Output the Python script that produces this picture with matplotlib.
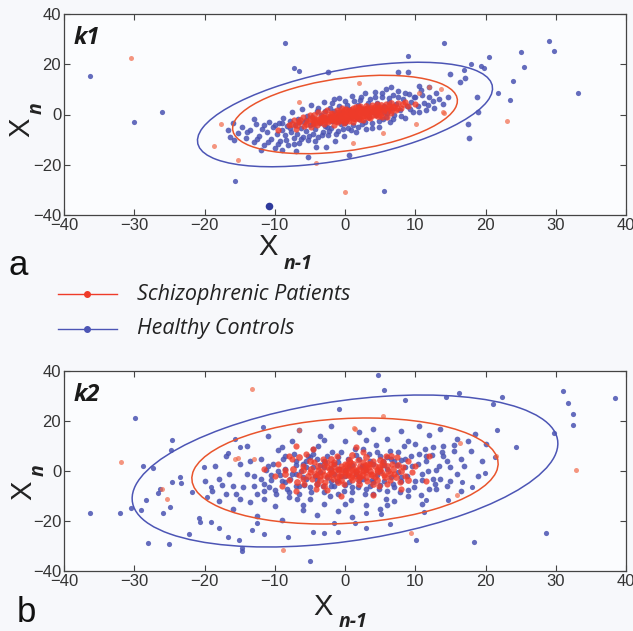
import numpy as np
import matplotlib
matplotlib.use("Agg")
import matplotlib.pyplot as plt
from matplotlib.patches import Ellipse
from matplotlib.lines import Line2D

plt.rcParams["font.family"] = ["Liberation Sans", "DejaVu Sans"]
plt.rcParams["axes.unicode_minus"] = True

W, H = 633, 631
BG = "#f7f8fb"
BLUE = "#4a53b2"
RED = "#ef3b29"
BLUE_LINE = "#4c55b5"
RED_LINE = "#e9542c"

# ---- panel k1 (a) ----
k1_blue_core = np.array([
    (-15.2, -7.5), (-14.6, -4.8), (-14.1, -9.2), (-13.5, -6.1), (-13.0, -11.0), (-12.7, -3.9), (-12.2, -8.4),
    (-11.8, -5.6), (-11.5, -12.3), (-11.1, -7.0), (-10.8, -2.8), (-10.5, -9.6), (-10.2, -5.1), (-10.0, -13.5),
    (-9.7, -7.8), (-9.4, -3.2), (-9.2, -10.4), (-9.0, -6.0), (-8.8, -1.5), (-8.6, -8.2), (-8.3, -4.7),
    (-8.1, -12.0), (-7.9, -2.6), (-7.7, -6.9), (-7.5, 0.8), (-7.3, -9.5), (-7.1, -4.0), (-6.9, -7.6),
    (-6.7, -1.9), (-6.5, -11.2), (-6.3, -5.4), (-6.1, 2.1), (-6.0, -8.8), (-5.8, -3.1), (-5.6, -6.5),
    (-5.4, -0.6), (-5.2, -10.0), (-5.0, -4.3), (-4.8, 3.6), (-4.6, -7.7), (-4.4, -2.0), (-4.2, -5.6),
    (-4.0, 1.2), (-3.8, -9.1), (-3.6, -3.5), (-3.4, -0.2), (-3.2, -6.8), (-3.0, 4.8), (-2.8, -4.6),
    (-2.6, -1.4), (-2.4, -8.0), (-2.2, 2.4), (-2.0, -5.2), (-1.8, -2.6), (-1.6, 6.2), (-1.4, -10.5),
    (-1.2, -0.4), (-1.0, -6.4), (-0.8, 3.2), (-0.6, -3.6), (-0.4, 0.9), (-0.2, -8.4), (0.0, 5.4),
    (0.2, -2.0), (0.4, -5.2), (0.6, 2.2), (0.8, -0.8), (1.0, 7.2), (1.2, -4.0), (1.4, 1.4), (1.6, -7.0),
    (1.8, 3.8), (2.0, -1.8), (2.2, 5.6), (2.4, -3.6), (2.6, 0.4), (2.8, 8.4), (3.0, -5.6), (3.2, 2.6),
    (3.4, -1.0), (3.6, 6.2), (3.8, -3.2), (4.0, 1.0), (4.2, 9.0), (4.4, -0.2), (4.6, 4.4), (4.8, -4.8),
    (5.0, 2.0), (5.2, 7.0), (5.4, -1.6), (5.6, 3.4), (5.8, 10.2), (6.0, 0.6), (6.2, 5.0), (6.4, -2.8),
    (6.6, 2.6), (6.8, 7.8), (7.0, 0.0), (7.3, 4.2), (7.6, 9.4), (7.9, 1.6), (8.2, 6.0), (8.5, -1.2),
    (8.8, 3.4), (9.1, 8.0), (9.4, 5.0), (9.7, 1.0), (10.0, 6.8), (10.4, 3.2), (10.8, 9.8), (11.2, 4.6),
    (11.6, 1.8), (12.0, 7.0), (12.5, 5.2), (13.0, 8.6), (-2.0, -1.0), (-1.0, -2.5), (0.5, 0.5),
    (1.5, -1.0), (2.5, 2.0), (-3.0, -2.0), (3.5, 1.5), (-1.5, 1.5), (0.0, -3.5), (4.5, 2.8),
    (-4.5, -3.8), (5.5, 0.8), (-0.5, -1.0), (2.0, 3.0), (-2.5, -5.0), (-16.6, -6.0), (-16.4, -9.0),
    (-2.7, -12.8), (-4.1, -12.8), (-5.3, -16.8), (0.5, -16.0), (-2.4, 16.8), (7.6, 16.8), (8.9, 16.8),
    (17.5, -3.6), (17.7, -9.2), (19.0, 0.8), (18.8, 6.8), (16.4, 12.8), (17.1, 14.4), (14.9, 16.0),
])
k1_blue_band = np.array([
    (-14.0, -7.0), (-12.5, -9.8), (-11.6, -4.2), (-10.9, -10.8), (-9.9, -4.0), (-9.5, -11.8), (-8.9, -3.5),
    (-8.4, -10.0), (-7.8, -5.3), (-7.2, -11.6), (-6.6, -3.0), (-6.2, -9.8), (-5.5, -2.0), (-5.1, -8.6),
    (-4.7, -0.8), (-4.3, -10.6), (-3.9, 2.6), (-3.3, -8.0), (-2.9, 1.4), (-2.3, -6.4), (-1.9, 4.4),
    (-1.3, -7.6), (-0.9, 6.6), (-0.3, -5.8), (0.3, 3.8), (0.9, -6.0), (1.3, 5.4), (1.9, -4.8), (2.3, 7.0),
    (2.9, -3.0), (3.3, 4.6), (3.9, -5.4), (4.3, 6.8), (4.9, -2.6), (5.3, 8.6), (5.9, -0.8), (6.3, 6.6),
    (6.9, -1.6), (7.5, 6.8), (8.0, -0.4), (8.6, 8.6), (9.2, 2.0), (9.8, 7.0), (10.6, 1.0), (11.0, 7.6),
    (11.8, 3.6), (12.6, 2.4), (13.4, 6.2), (14.0, 4.0), (14.6, 7.0), (-13.0, -1.8), (-15.8, -10.0),
    (-12.0, -14.0), (-9.0, -14.2), (-7.0, -14.6), (10.5, 11.5), (12.0, 10.8), (6.5, 11.0), (-16.0, -3.5),
])
k1_blue_outliers = np.array([
    (-36.3, 15.2), (-30.1, -2.8), (-26.0, 0.8), (-8.6, 28.4), (-7.3, 18.4), (-6.6, 17.2), (-15.6, -26.4),
    (14.1, 28.4), (9.0, 23.2), (29.0, 29.2), (29.7, 25.2), (25.0, 24.8), (25.5, 18.8), (20.5, 22.8),
    (19.4, 19.2), (19.8, 18.4), (17.9, 20.0), (17.0, 17.6), (23.9, 13.2), (21.8, 8.4), (23.5, 5.6),
    (33.1, 8.4), (5.6, -30.4),
])
k1_blue_big = np.array([(-10.8, -36.4)])
k1_red_core = np.array([
    (-8.0, -4.0), (-7.2, -2.0), (-7.0, -5.6), (-6.5, -3.0), (-6.0, -1.0), (-5.8, -4.4), (-5.4, -2.4),
    (-5.0, 0.0), (-4.8, -5.0), (-4.5, -3.2), (-4.2, -1.6), (-4.0, -4.0), (-3.8, 0.8), (-3.6, -2.6),
    (-3.3, -0.8), (-3.0, -3.8), (-2.8, -1.8), (-2.6, 1.6), (-2.4, -3.0), (-2.2, -0.4), (-2.0, -2.2),
    (-1.8, 0.6), (-1.6, -4.2), (-1.4, -1.2), (-1.2, 1.8), (-1.0, -2.8), (-0.8, -0.2), (-0.6, -1.8),
    (-0.4, 2.4), (-0.2, -3.4), (0.0, 0.2), (0.2, -1.2), (0.4, 1.2), (0.6, -2.4), (0.8, 0.6), (1.0, -0.6),
    (1.2, 2.6), (1.4, -1.8), (1.6, 0.0), (1.8, 1.6), (2.0, -1.0), (2.2, 3.2), (2.4, 0.4), (2.6, -2.0),
    (2.8, 1.2), (3.0, -0.4), (3.2, 2.4), (3.4, 0.6), (3.6, -1.4), (3.8, 3.6), (4.0, 1.4), (4.2, -0.2),
    (4.4, 2.2), (4.6, 4.2), (4.8, 0.8), (5.0, 2.8), (5.3, -0.8), (5.6, 1.8), (5.9, 4.0), (6.2, 2.4),
    (6.5, 0.6), (6.8, 3.4), (7.2, 1.8), (7.6, 4.4), (8.0, 2.6), (8.5, 5.0), (9.0, 3.2), (-1.0, 0.8),
    (0.0, -1.0), (1.0, 1.0), (2.0, 0.6), (3.0, 1.0), (-2.0, -1.2), (0.5, -0.2), (1.5, 0.8), (2.5, -0.6),
    (-0.5, 0.0), (3.5, 2.0), (4.5, 0.4), (-3.5, -1.5), (1.2, -2.8), (2.2, 1.8), (0.2, 2.0), (-1.5, -2.0),
    (6.0, -0.8), (-9.5, -6.0), (10.0, 4.0),
])
k1_red_dense = np.array([
    (-5.5, -3.6), (-5.0, -1.6), (-4.6, -2.2), (-4.2, -3.4), (-3.9, -2.0), (-3.5, -3.0), (-3.2, -1.0),
    (-2.9, -2.6), (-2.5, -0.8), (-2.3, -2.0), (-2.0, 0.2), (-1.8, -1.6), (-1.5, -0.6), (-1.3, -2.6),
    (-1.1, 0.0), (-0.9, -1.4), (-0.7, 0.8), (-0.5, -2.2), (-0.3, -0.6), (-0.1, 1.0), (0.1, -0.4),
    (0.3, -1.8), (0.5, 0.8), (0.7, -1.0), (0.9, 1.6), (1.1, 0.0), (1.3, -1.2), (1.5, 1.4), (1.7, -0.4),
    (1.9, 0.6), (2.1, -1.6), (2.3, 2.2), (2.5, 1.0), (2.7, -0.2), (2.9, 2.0), (3.1, 0.2), (3.3, -0.8),
    (3.5, 1.0), (3.7, 2.6), (3.9, 0.0), (4.1, 1.8), (4.3, 3.0), (4.5, 1.2), (4.7, -0.4), (4.9, 2.0),
    (5.1, 3.6), (5.4, 1.0), (5.7, 2.6), (6.0, 1.4), (6.3, 3.4), (6.6, 1.8), (7.0, 3.0), (7.4, 2.6),
    (-6.4, -2.0), (-6.8, -4.0), (-7.6, -3.6), (-3.0, 0.4), (-4.4, 0.0), (0.0, -2.4), (2.0, 2.6),
    (5.0, 0.0), (6.5, 4.6), (8.2, 4.0), (-0.2, 1.8), (1.6, 2.8), (3.0, 3.2),
])
k1_red_outliers = np.array([
    (-30.4, 22.4), (-17.7, -3.6), (-18.7, -12.4), (-15.3, -18.0), (-4.1, -19.2), (23.0, -2.4),
    (0.0, -30.8), (12.0, 10.8), (13.6, 10.0), (14.1, 0.4), (10.1, -3.6), (1.1, -11.2), (5.4, -7.2),
    (10.6, 8.4), (14.0, 0.8), (2.0, 12.4), (-6.6, 4.8),
])
# ellipse: half extent in x, half extent in y, y at the x extreme
k1_blue_ell = (21.0, 20.8, 10.4)
k1_red_ell = (16.0, 15.6, 5.5)

# ---- panel k2 (b) ----
k2_blue_core = np.array([
    (-20.0, -4.0), (-19.0, -8.0), (-18.5, 2.0), (-18.0, -12.0), (-17.5, -5.5), (-17.0, 6.0), (-16.5, -1.0),
    (-16.0, -15.0), (-15.5, -9.0), (-15.0, 3.0), (-14.5, -6.5), (-14.0, 10.0), (-13.5, -12.5), (-13.0, -2.0),
    (-12.5, -18.0), (-12.0, 5.0), (-11.5, -8.0), (-11.0, 14.0), (-10.5, -3.5), (-10.0, -14.0), (-9.5, 8.5),
    (-9.0, -19.5), (-8.5, 1.0), (-8.0, -10.5), (-7.5, 12.0), (-7.0, -6.0), (-6.5, 16.5), (-6.0, -15.5),
    (-5.5, 4.0), (-5.0, -11.0), (-4.5, 9.0), (-4.0, -17.5), (-3.5, 14.0), (-3.0, -13.0), (-2.0, 18.0),
    (-1.0, -16.0), (0.0, 12.0), (1.0, -18.5), (2.0, 15.5), (3.0, -13.5), (4.0, 17.0), (5.0, -15.0),
    (6.0, 13.0), (7.0, -12.0), (8.0, 16.0), (9.0, -10.0), (10.0, 11.0), (11.0, -13.0), (12.0, 14.5),
    (13.0, -7.0), (14.0, 10.0), (15.0, -4.0), (16.0, 13.0), (17.0, 2.0), (18.0, 8.0), (19.0, -2.0),
    (20.0, 11.0), (14.5, 4.0), (16.5, -8.0), (18.5, 15.0), (13.5, 17.0), (11.5, 6.0), (12.5, -3.0),
    (10.5, 18.0), (15.5, 8.0), (17.5, 12.0), (19.5, 4.0),
    (-12.0, -3.0), (-11.2, 0.5), (-10.8, -6.2), (-10.2, 3.0), (-9.8, -9.0), (-9.2, -1.5), (-8.8, 4.8),
    (-8.2, -7.2), (-7.8, -3.0), (-7.2, 7.0), (-6.8, -11.0), (-6.2, 0.0), (-5.8, -5.5), (-5.2, 6.2),
    (-4.8, -8.5), (-4.2, -2.0), (-3.8, 10.0), (-3.2, -6.0), (-2.8, 3.5), (-2.2, -10.0), (-1.8, 7.5),
    (-1.2, -4.0), (-0.8, 1.0), (-0.2, -8.0), (0.4, 5.0), (0.8, -11.5), (1.4, 9.0), (1.8, -6.5), (2.4, 2.0),
    (2.8, -9.0), (3.4, 7.0), (3.8, -3.5), (4.4, 10.5), (4.8, -7.0), (5.4, 4.0), (5.8, -11.0), (6.4, 8.0),
    (6.8, -5.0), (7.4, 2.5), (7.8, -8.5), (8.4, 10.0), (8.8, -2.0), (9.4, 6.0), (9.8, -6.5), (10.4, 3.0),
    (10.8, -9.5), (11.4, 9.0), (11.8, 0.0), (12.4, 6.5), (12.8, -5.0), (13.4, 2.0), (13.8, 7.5),
    (-11.5, -11.0), (-9.0, 9.5), (-6.0, -13.5), (-3.0, 12.5), (0.0, -13.0), (3.0, 12.5), (6.0, -13.5),
    (9.0, 12.0), (-7.0, 2.5), (5.0, 0.0), (8.0, 4.5), (-4.0, 5.0), (2.0, -2.5), (-1.5, -1.0), (11.0, -3.5),
    (-8.5, -4.5),
    (-7.0, -1.0), (-6.0, 3.0), (-5.5, -3.0), (-4.5, 1.5), (-4.0, -5.0), (-3.5, -0.5), (-3.0, 4.0),
    (-2.5, -2.5), (-2.0, 1.0), (-1.5, -6.0), (-1.0, 3.5), (-0.5, -2.0), (0.0, 0.5), (0.5, -4.5), (1.0, 2.5),
    (1.5, -1.0), (2.0, 5.0), (2.5, -3.0), (3.0, 0.5), (3.5, -6.0), (4.0, 3.0), (4.5, -1.5), (5.0, 6.0),
    (5.5, -4.0), (6.0, 1.0), (6.5, -2.5), (7.0, 4.0), (7.5, -0.5), (8.0, -4.0), (8.5, 1.5), (-6.5, -6.0),
    (-5.0, 5.5), (-2.0, -4.0), (1.0, -6.5), (4.0, -4.5), (6.0, 5.5), (-3.0, 1.5), (0.0, -2.0), (2.5, 1.5),
    (-1.0, 5.5),
])
k2_blue_band = np.array([
    (-11.5, -5.0), (-11.0, 2.0), (-10.5, -1.5), (-10.0, -7.5), (-9.5, 0.0), (-9.0, -4.0), (-8.5, 6.0),
    (-8.0, -8.5), (-7.5, -1.0), (-7.0, 4.0), (-6.5, -9.0), (-6.0, -2.5), (-5.5, 1.5), (-5.0, -6.5),
    (-4.5, 7.0), (-4.0, -3.5), (-3.5, 2.5), (-3.0, -8.5), (-2.5, 6.0), (-2.0, -6.0), (-1.5, 3.0),
    (-1.0, -9.0), (-0.5, 7.5), (0.0, -5.5), (0.5, 2.0), (1.0, -8.5), (1.5, 6.5), (2.0, -4.0), (2.5, 9.0),
    (3.0, -7.0), (3.5, 4.0), (4.0, -9.0), (4.5, 7.5), (5.0, -5.5), (5.5, 2.5), (6.0, -8.0), (6.5, 5.0),
    (7.0, -6.5), (7.5, 7.5), (8.0, -2.5), (8.5, 5.0), (9.0, -7.5), (9.5, 2.0), (10.0, -4.0), (10.5, 7.0),
    (11.0, -1.0), (11.5, 4.0), (12.0, -7.0), (12.5, 9.5), (13.0, 0.5), (13.5, -3.0), (14.0, 6.0),
    (14.5, -6.0), (15.0, 1.5), (15.5, 10.5), (16.0, -1.0), (16.5, 5.0), (-13.0, -6.0), (-14.0, -1.0),
    (-13.5, 4.0), (-12.5, -9.0), (-15.0, -11.0), (-17.0, -9.0), (-16.0, -6.0), (-18.0, -3.0),
])
k2_blue_outliers = np.array([
    (-29.9, 21.2), (-36.3, -16.8), (-32.0, -16.8), (-30.4, -14.8), (-29.1, -15.6), (-28.7, 2.0),
    (-27.3, 1.2), (-28.0, -28.8), (-25.1, -29.2), (-24.6, 12.4), (-24.8, 8.4), (-25.9, -16.8),
    (-24.9, -14.4), (-26.3, -7.2), (-26.6, -8.8), (-24.6, -4.4), (-23.5, -2.4), (-23.4, -4.8),
    (-21.8, -8.4), (-22.2, -25.2), (-20.8, -18.8), (-20.6, -20.4), (-28.3, -11.6), (-19.1, -20.4),
    (-18.0, -22.8), (-16.7, -26.4), (-15.1, -27.6), (-14.6, -30.8), (-14.6, -32.0), (-11.6, -25.2),
    (-8.1, -26.4), (-5.0, -36.0), (-13.2, -23.6), (-12.5, -20.8), (-20.1, 1.6), (-19.1, -6.4),
    (-19.6, -10.4), (-15.6, 12.8), (-14.9, 9.6), (-11.7, 17.6), (-16.7, 7.2),
    (4.7, 38.4), (5.5, 32.4), (16.2, 31.2), (8.6, 28.4), (14.4, 29.6), (22.4, 29.6), (31.1, 32.0),
    (31.8, 27.2), (32.5, 22.8), (32.4, 18.4), (38.4, 29.2), (21.1, 26.8), (-0.9, 24.8), (21.6, 16.4),
    (29.7, 15.2), (24.4, 9.6), (21.3, 5.6), (19.9, -0.8), (18.1, -6.4), (16.6, -4.4), (28.6, -24.8),
    (18.3, -28.4), (10.1, -27.6), (6.4, -21.2), (3.0, -22.8), (-1.0, -24.4), (-3.0, -24.8),
    (-4.6, -24.4), (1.4, -20.8), (-1.6, -20.8), (5.1, -17.2), (3.0, -16.8), (11.3, -16.4),
    (11.6, -11.6), (14.7, -11.6),
])
k2_red_core = np.array([
    (-10.0, -2.0), (-9.5, 3.0), (-9.0, -6.0), (-8.5, 0.5), (-8.0, -3.5), (-7.5, 5.0), (-7.0, -8.0),
    (-6.5, -1.5), (-6.0, 2.0), (-5.8, -5.0), (-5.5, 7.0), (-5.0, -0.5), (-4.7, -3.0), (-4.4, 3.5),
    (-4.1, -7.0), (-3.8, 0.5), (-3.5, -2.0), (-3.2, 5.0), (-2.9, -4.5), (-2.6, 1.5), (-2.3, -1.0),
    (-2.0, 3.0), (-1.7, -3.0), (-1.4, 0.0), (-1.1, 6.0), (-0.8, -2.0), (-0.5, 2.0), (-0.2, -5.0),
    (0.1, 0.5), (0.4, -1.5), (0.7, 3.5), (1.0, -3.5), (1.3, 1.0), (1.6, -0.5), (1.9, 4.5), (2.2, -2.5),
    (2.5, 0.0), (2.8, 2.5), (3.1, -4.0), (3.4, 1.5), (3.7, -1.0), (4.0, 4.0), (4.3, -2.5), (4.6, 0.5),
    (4.9, -6.0), (5.2, 2.5), (5.5, -1.5), (5.8, 6.0), (6.1, 0.0), (6.4, -3.5), (6.7, 3.0), (7.0, -1.0),
    (7.4, 5.5), (7.8, -4.5), (8.2, 1.5), (8.6, -2.0), (9.0, 4.0), (9.5, -0.5), (10.0, 2.0), (-1.0, 1.0),
    (0.0, -0.5), (1.0, 0.5), (2.0, 1.0), (3.0, -0.5), (-2.0, -0.5), (0.5, 1.5), (1.5, -2.0), (2.5, 3.5),
    (-0.5, -1.0), (3.5, 3.0), (4.5, -0.5), (-3.0, 2.5), (-4.0, -1.5), (5.0, 1.0), (-1.5, 3.5), (0.0, 3.0),
    (1.0, -1.5), (2.0, -1.0), (3.0, 1.5), (-6.0, -3.0), (6.0, -5.0), (-8.0, 6.0), (8.0, -7.0),
    (-2.5, -7.5), (2.5, 7.5), (-4.5, 9.0), (4.0, -9.5), (-7.0, 10.0), (11.5, -4.0), (12.0, 6.0),
    (-11.5, 1.0), (-0.5, -10.0), (1.5, 9.5),
])
k2_red_dense = np.array([
    (-5.2, -2.0), (-4.8, 1.0), (-4.3, -1.0), (-3.9, 2.0), (-3.6, -3.5), (-3.3, 0.0), (-3.0, -1.5),
    (-2.7, 3.5), (-2.4, -2.5), (-2.1, 1.0), (-1.8, -1.0), (-1.5, 2.0), (-1.2, -2.5), (-0.9, 0.5),
    (-0.6, -3.5), (-0.3, 1.0), (0.0, -1.5), (0.3, 2.5), (0.6, -0.5), (0.9, -2.5), (1.2, 3.0), (1.5, 0.0),
    (1.8, -3.0), (2.1, 2.0), (2.4, -1.5), (2.7, 0.5), (3.0, -2.5), (3.3, 3.0), (3.6, 0.0), (3.9, -1.5),
    (4.2, 2.0), (4.5, -3.5), (4.8, 1.5), (5.1, -0.5), (5.4, 3.5), (5.7, -2.5), (6.0, 2.0), (6.4, -1.0),
    (6.8, 1.0), (7.2, -2.5), (7.6, 2.5), (-6.0, 0.5), (-6.8, -4.5), (-7.4, 1.0), (-5.0, 4.0), (-2.0, 5.0),
    (0.5, 4.5), (3.0, 5.5), (5.0, 4.5), (-1.0, -4.5), (2.0, -5.0), (4.0, -5.0), (-4.0, -5.0), (-8.5, -1.0),
    (8.0, 0.0), (-3.0, -6.0), (1.0, 6.5), (6.5, 6.0), (-6.5, 5.5), (9.0, -3.5),
])
k2_red_outliers = np.array([
    (-13.2, 32.8), (-31.9, 3.6), (-8.8, -31.6), (-26.0, -7.0), (-15.3, 5.2), (-6.5, 16.4), (-13.0, 5.0),
    (32.9, 0.4), (9.4, -24.8), (15.9, -9.6), (1.3, 17.2), (5.4, 22.0), (16.3, 11.2), (21.5, 6.0),
    (-25.3, -11.2), (-15.6, 4.8), (1.4, 16.8),
])
k2_blue_ell = (30.3, 30.4, 11.0)
k2_red_ell = (21.8, 21.2, 3.0)

xticks = [-40, -30, -20, -10, 0, 10, 20, 30, 40]
yticks = [-40, -20, 0, 20, 40]
legend_labels = ["Schizophrenic Patients", "Healthy Controls"]


def px(x, y):
    return x / W, 1 - y / H


def add_ellipse(ax, spec, color):
    sx, sy, yx = spec
    rho = yx / sy
    cov = np.array([[sx ** 2, rho * sx * sy], [rho * sx * sy, sy ** 2]])
    vals, vecs = np.linalg.eigh(cov)
    angle = np.degrees(np.arctan2(vecs[1, 1], vecs[0, 1]))
    ell = Ellipse((0, 0), 2 * np.sqrt(vals[1]), 2 * np.sqrt(vals[0]), angle=angle,
                  fill=False, edgecolor=color, linewidth=1.1, zorder=4)
    ax.add_patch(ell)


def draw_panel(ax, blues, reds, blue_ell, red_ell, tag):
    ax.set_facecolor("#fbfcfe")
    # outer (sparse) points small, core points a little bigger so the clouds read as dense blobs
    ax.scatter(blues[0][:, 0], blues[0][:, 1], s=17, color=BLUE, alpha=0.85, linewidths=0, zorder=2)
    ax.scatter(blues[1][:, 0], blues[1][:, 1], s=17, color=BLUE, alpha=0.85, linewidths=0, zorder=2)
    ax.scatter(blues[2][:, 0], blues[2][:, 1], s=14, color=BLUE, alpha=0.85, linewidths=0, zorder=2)
    ax.scatter(reds[0][:, 0], reds[0][:, 1], s=20, color=RED, alpha=0.8, linewidths=0, zorder=3)
    ax.scatter(reds[1][:, 0], reds[1][:, 1], s=24, color=RED, alpha=0.8, linewidths=0, zorder=3)
    ax.scatter(reds[2][:, 0], reds[2][:, 1], s=13, color="#f26a4a", alpha=0.7, linewidths=0, zorder=3)
    add_ellipse(ax, blue_ell, BLUE_LINE)
    add_ellipse(ax, red_ell, RED_LINE)
    ax.set_xlim(-40, 40)
    ax.set_ylim(-40, 40)
    ax.set_xticks(xticks)
    ax.set_yticks(yticks)
    ax.tick_params(direction="in", top=True, right=True, length=4, width=0.8,
                   labelsize=12, colors="#444444", labelcolor="#333333", pad=2)
    for s in ax.spines.values():
        s.set_color("#444444")
        s.set_linewidth(0.9)
    ax.text(0.017, 0.94, tag, transform=ax.transAxes, fontsize=17, fontweight="bold",
            fontstyle="italic", family="Open Sans", va="top", ha="left", color="#1a1a1a")


fig = plt.figure(figsize=(W / 100, H / 100), dpi=100, facecolor=BG)
ax1 = fig.add_axes([64 / W, 1 - 215 / H, 562 / W, 201 / H])
ax2 = fig.add_axes([64 / W, 1 - 571 / H, 562 / W, 200 / H])

draw_panel(ax1, [k1_blue_core, k1_blue_band, k1_blue_outliers], [k1_red_core, k1_red_dense, k1_red_outliers],
           k1_blue_ell, k1_red_ell, "k1")
ax1.scatter(k1_blue_big[:, 0], k1_blue_big[:, 1], s=30, color="#2e3a9c", linewidths=0, zorder=3)
draw_panel(ax2, [k2_blue_core, k2_blue_band, k2_blue_outliers], [k2_red_core, k2_red_dense, k2_red_outliers],
           k2_blue_ell, k2_red_ell, "k2")

# axis labels (X with bold italic subscript)
for (xx, xy), (sx_, sy_) in [((268, 247), (284, 264)), ((323, 607), (339, 622))]:
    fig.text(*px(xx, xy), "X", fontsize=21, ha="center", va="center", color="#222222")
    fig.text(*px(sx_, sy_), "n-1", fontsize=14, fontweight="bold", fontstyle="italic",
             family="Open Sans", ha="left", va="center", color="#222222")
for (xx, xy), (sx_, sy_) in [((21, 127), (37, 108)), ((23, 490), (39, 470))]:
    fig.text(*px(xx, xy), "X", fontsize=21, rotation=90, ha="center", va="center", color="#222222")
    fig.text(*px(sx_, sy_), "n", fontsize=14, fontweight="bold", fontstyle="italic", rotation=90,
             family="Open Sans", ha="center", va="center", color="#222222")

# panel letters
fig.text(*px(18, 265), "a", fontsize=25, ha="center", va="center", color="#111111")
fig.text(*px(26, 613), "b", fontsize=25, ha="center", va="center", color="#111111")

# legend
for label, color, y in zip(legend_labels, [RED, BLUE_LINE], [294, 329]):
    fig.add_artist(Line2D([58 / W, 117 / W], [1 - y / H] * 2, transform=fig.transFigure,
                          color=color, linewidth=1.0))
    fig.add_artist(Line2D([87 / W], [1 - y / H], transform=fig.transFigure, marker="o",
                          markersize=4, color=color, linewidth=0))
    fig.text(*px(137, y), label, fontsize=15.5, fontstyle="italic", family="Open Sans",
             ha="left", va="center", color="#222222")

fig.savefig("out.png", dpi=100, facecolor=BG)
